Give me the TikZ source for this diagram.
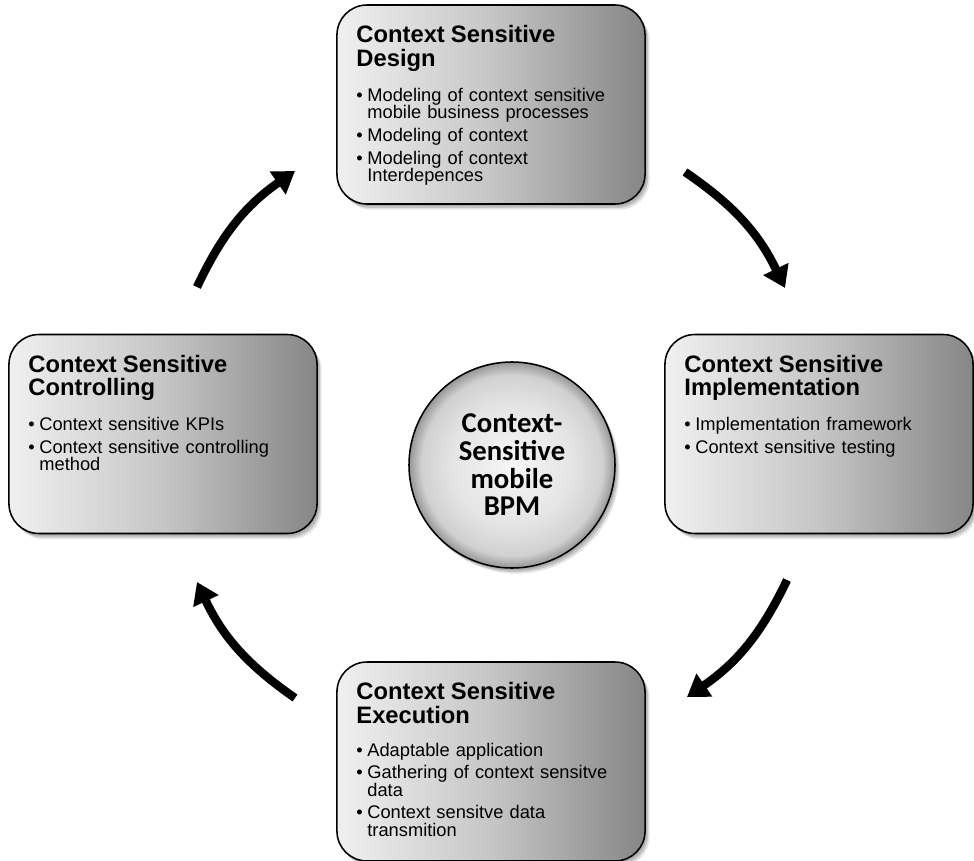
\documentclass[tikz,border=0pt]{standalone}
\usepackage{fontspec}
\setmainfont{Liberation Sans}
\newfontfamily\hubfont{Carlito}
\usetikzlibrary{arrows.meta, shadows}

% Define colors
\definecolor{stagelight}{RGB}{240, 240, 240}
\definecolor{stagemid}{RGB}{198, 198, 198}
\definecolor{stagedark}{RGB}{134, 134, 134}
\definecolor{hublight}{RGB}{246, 246, 246}
\definecolor{hubmid}{RGB}{228, 228, 228}
\definecolor{hubdark}{RGB}{150, 150, 150}

% Shadings
\pgfdeclarehorizontalshading{stagefill}{100bp}{color(0bp)=(stagelight); color(25bp)=(stagelight); color(50bp)=(stagemid); color(75bp)=(stagedark); color(100bp)=(stagedark)}
\pgfdeclareradialshading{hubfill}{\pgfpoint{0bp}{0bp}}{color(0bp)=(hublight); color(15bp)=(hubmid); color(22bp)=(hubmid!75!hubdark); color(25bp)=(hubdark); color(50bp)=(hubdark)}

% Box text
\newcommand{\stagehead}[1]{{\fontsize{16.9pt}{16.7pt}\selectfont\bfseries #1\par}\vspace{7.45pt}}
\newcommand{\stageitem}[1]{\vspace{3.6pt}\hangindent=7.8pt\hangafter=1\noindent\makebox[7.8pt][l]{\textbullet}{\let\\\newline #1}\par}

\begin{document}
\begin{tikzpicture}[x=0.025cm, y=0.025cm,
    softshadow/.style={general shadow={shadow xshift=1.2pt, shadow yshift=-1.6pt, opacity=0.12, fill=black},
        general shadow={shadow xshift=2.2pt, shadow yshift=-2.8pt, opacity=0.14, fill=black},
        general shadow={shadow xshift=3.2pt, shadow yshift=-4pt, opacity=0.10, fill=black}},
    stagebox/.style={draw=black, line width=1.1pt, rounded corners=21.3pt,
        minimum width=219.1pt, minimum height=141.5pt, shading=stagefill, shade, softshadow},
    stagetext/.style={anchor=north west, inner sep=0pt, text width=199pt, align=left,
        font=\fontsize{13pt}{12.45pt}\selectfont},
    hub/.style={circle, draw=black, line width=1.1pt, minimum size=146.5pt, inner sep=0pt,
        shading=hubfill, shade, align=center, softshadow,
        font=\hubfont\bfseries\fontsize{20.4pt}{19.7pt}\selectfont},
    cyclearrow/.style={line width=6pt, -{Triangle[length=15pt, width=19pt]}, bend left=15}]

\useasboundingbox (0,0) rectangle (974,-861);

% Stage boxes
\node[stagebox] (design) at (491,-104.5) {};
\node[stagebox] (control) at (163,-434) {};
\node[stagebox] (implement) at (819,-434) {};
\node[stagebox] (execute) at (491,-761.5) {};

% Stage texts
\node[stagetext] (design-txt) at ([shift={(14.2pt,-14.9pt)}]design.north west) {%
    \stagehead{Context Sensitive\\Design}
    \stageitem{Modeling of context sensitive\\mobile business processes}
    \stageitem{Modeling of context}
    \stageitem{Modeling of context\\Interdepences}};
\node[stagetext] (control-txt) at ([shift={(14.2pt,-14.9pt)}]control.north west) {%
    \stagehead{Context Sensitive\\Controlling}
    \stageitem{Context sensitive KPIs}
    \stageitem{Context sensitive controlling\\method}};
\node[stagetext] (implement-txt) at ([shift={(14.2pt,-14.9pt)}]implement.north west) {%
    \stagehead{Context Sensitive\\Implementation}
    \stageitem{Implementation framework}
    \stageitem{Context sensitive testing}};
\node[stagetext] (execute-txt) at ([shift={(14.2pt,-14.9pt)}]execute.north west) {%
    \stagehead{Context Sensitive\\Execution}
    \stageitem{Adaptable application}
    \stageitem{Gathering of context sensitve\\data}
    \stageitem{Context sensitve data\\transmition}};

% Center circle
\node[hub] (bpm) at (512,-465) {Context-\\Sensitive\\mobile\\BPM};

% Arrow ends
\coordinate (design-out) at (685,-172);
\coordinate (implement-in) at (785,-288);
\coordinate (implement-out) at (787,-580);
\coordinate (execute-in) at (687,-697);
\coordinate (execute-out) at (295,-698);
\coordinate (control-in) at (197,-582);
\coordinate (control-out) at (197,-287);
\coordinate (design-in) at (295,-171);

% Cycle arrows
\draw[cyclearrow] (design-out) to (implement-in);
\draw[cyclearrow] (implement-out) to (execute-in);
\draw[cyclearrow] (execute-out) to (control-in);
\draw[cyclearrow] (control-out) to (design-in);

\end{tikzpicture}
\end{document}
